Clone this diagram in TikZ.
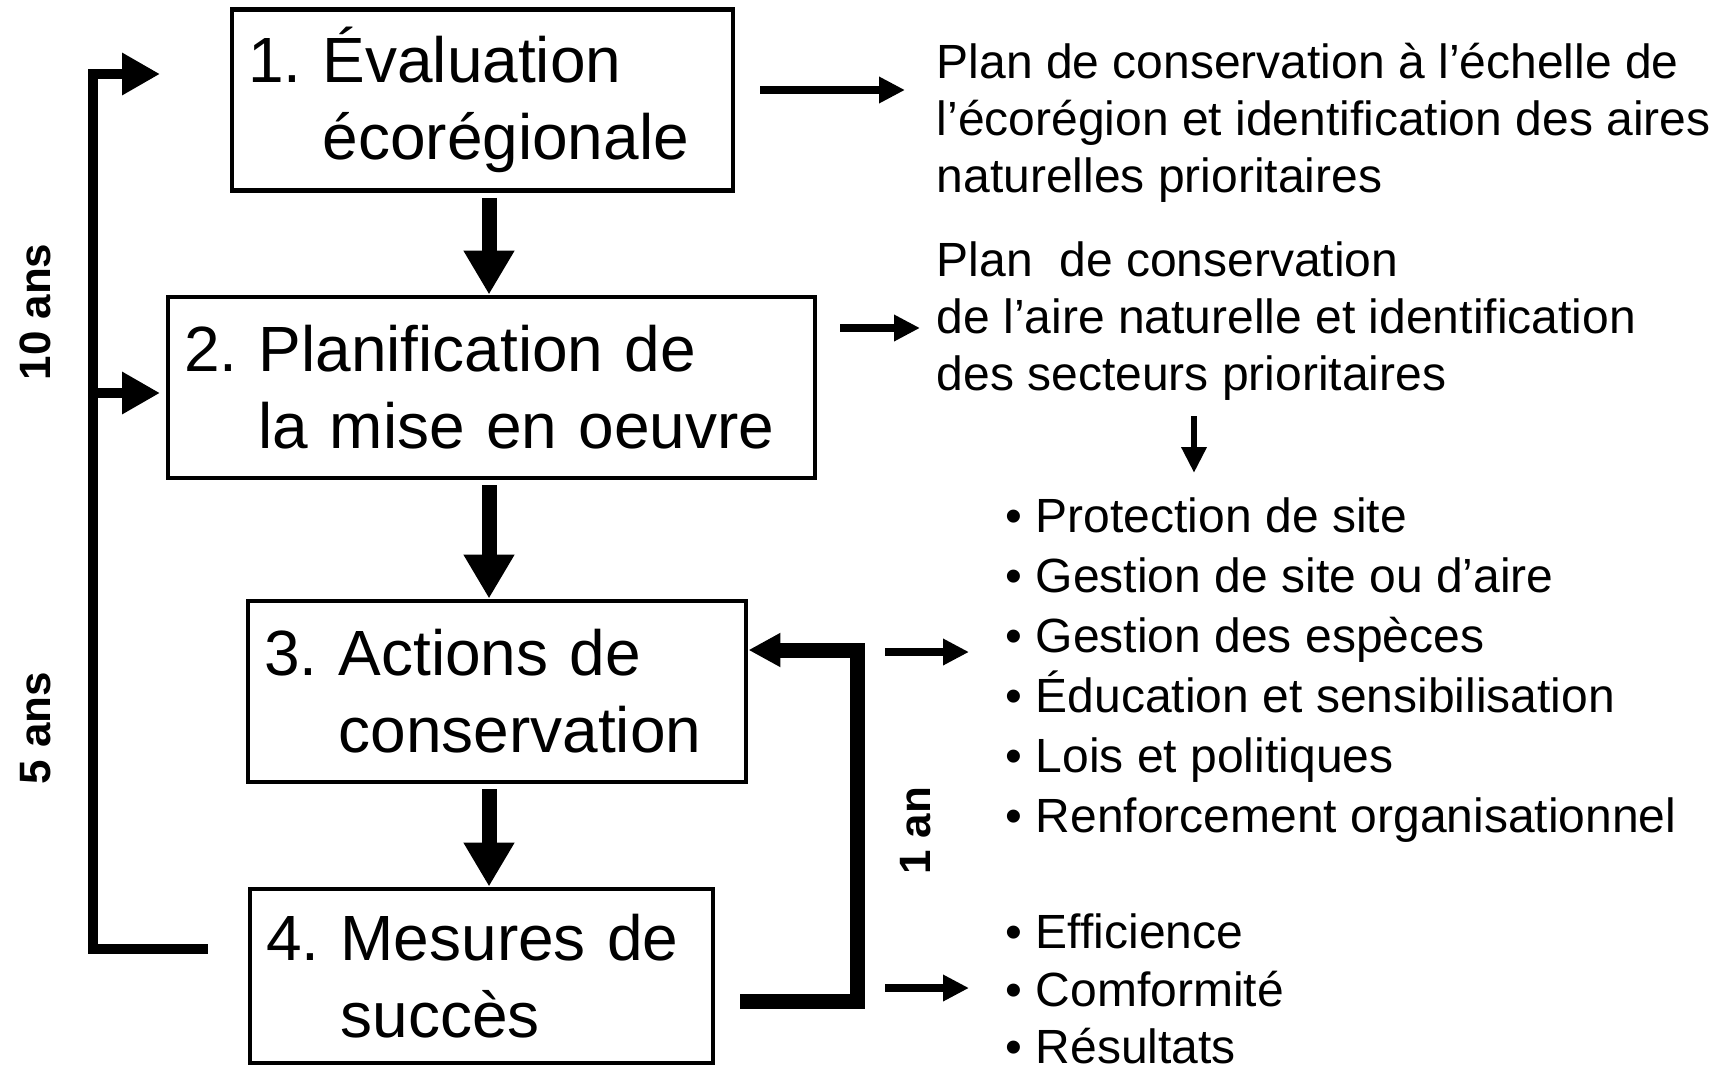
\documentclass[tikz,border=0pt]{standalone}
\usepackage{fontspec}
\setmainfont{Liberation Sans}
\usetikzlibrary{arrows.meta}
\tikzstyle{stage}=[rectangle, draw, line width=1.4pt, align=left, inner xsep=0.16cm, minimum height=1.81cm, font=\fontsize{18.2pt}{21.9pt}\selectfont\frenchspacing]
\tikzstyle{result}=[anchor=west, align=left, inner sep=0pt, font=\fontsize{13.66pt}{16.2pt}\selectfont]
\tikzstyle{bullets}=[result, font=\fontsize{13.66pt}{17.07pt}\selectfont]
\tikzstyle{period}=[rotate=90, inner sep=0pt, font=\bfseries\fontsize{12.5pt}{15pt}\selectfont]
\tikzstyle{flow}=[line width=0.15cm, shorten <=0.05cm, -{Triangle[length=0.44cm, width=0.48cm]}]
\tikzstyle{feed}=[line width=0.1cm, -{Triangle[length=0.38cm, width=0.40cm]}]
\tikzstyle{loopback}=[line width=0.15cm, -{Triangle[length=0.32cm, width=0.32cm]}]
\tikzstyle{yields}=[line width=0.075cm, -{Triangle[length=0.26cm, width=0.25cm]}]
\tikzstyle{pointer}=[line width=0.065cm, -{Triangle[length=0.26cm, width=0.24cm]}]

\begin{document}
\begin{tikzpicture}
		   \useasboundingbox (0,0) rectangle (17.18,-10.68);
		   \begin{scope}
			   \node (eval) at (4.825,-1.00) [stage, text width=4.69cm] {1. Évaluation\\\hphantom{1.\ }écorégionale};
			   \node (plan) at (4.915,-3.875) [stage, text width=6.15cm] {2. Planification de\\\hphantom{2.\ }la mise en oeuvre};
			   \node (actions) at (4.97,-6.915) [stage, text width=4.66cm] {3. Actions de\\\hphantom{3.\ }conservation};
			   \node (mesures) at (4.815,-9.76) [stage, text width=4.31cm, minimum height=1.74cm] {4. Mesures de\\\hphantom{4.\ }succès};

			   \node (planeco) at (9.36,-1.225) [result] {Plan de conservation à l’échelle de\\l’écorégion et identification des aires\\naturelles prioritaires};
			   \node (planaire) at (9.36,-3.21) [result] {Plan\ \ de conservation\\de l’aire naturelle et identification\\des secteurs prioritaires};
			   \node (actlist) at (10.05,-6.70) [bullets] {\textbullet\ Protection de site\\\textbullet\ Gestion de site ou d’aire\\\textbullet\ Gestion des espèces\\\textbullet\ Éducation et sensibilisation\\\textbullet\ Lois et politiques\\\textbullet\ Renforcement organisationnel};
			   \node (meslist) at (10.05,-9.89) [bullets, font=\fontsize{13.66pt}{16.3pt}\selectfont] {\textbullet\ Efficience\\\textbullet\ Comformité\\\textbullet\ Résultats};

			   \node (dix) at (0.35,-3.12) [period] {10 ans};
			   \node (cinq) at (0.36,-7.28) [period] {5 ans};
			   \node (un) at (9.16,-8.31) [period] {1 an};

			   \coordinate (axis) at (4.89,0);
			   \coordinate (fbtop) at (0.93,-0.74);
			   \coordinate (fbmid) at (0.93,-3.93);
			   \coordinate (fbbot) at (0.93,-9.49);
			   \coordinate (fbend) at (1.60,-0.74);
			   \coordinate (lpb) at (8.57,-10.01);
			   \coordinate (lpc) at (8.57,-6.50);
			   \coordinate (r1) at (9.05,-0.90);
			   \coordinate (r2) at (9.20,-3.28);
			   \coordinate (r3) at (9.69,-6.52);
			   \coordinate (r4) at (9.69,-9.88);
			   \coordinate (dn) at (11.94,-4.73);
		   \end{scope}
		   \begin{scope}
			   \path [flow] (eval.south -| axis) edge (plan.north -| axis);
			   \path [flow] (plan.south -| axis) edge (actions.north -| axis);
			   \path [flow] (actions.south -| axis) edge (mesures.north -| axis);

			   \draw [feed, shorten <=0.40cm] (mesures.west |- fbbot) -- (fbbot) -- (fbtop) -- (fbend);
			   \draw [feed] (fbmid) -- (fbmid -| fbend);

			   \draw [loopback, shorten <=0.25cm] (mesures.east |- lpb) -- (lpb) -- (lpc) -- (actions.east |- lpc);

			   \path [yields, shorten <=0.25cm] (eval.east |- r1) edge (r1);
			   \path [yields, shorten <=0.23cm] (plan.east |- r2) edge (r2);
			   \path [yields, shorten <=0.28cm] (lpc |- r3) edge (r3);
			   \path [yields, shorten <=0.28cm] (lpc |- r4) edge (r4);
			   \path [pointer, shorten <=0.15cm] (planaire.south -| dn) edge (dn);
		   \end{scope}
	   \end{tikzpicture}
\end{document}
